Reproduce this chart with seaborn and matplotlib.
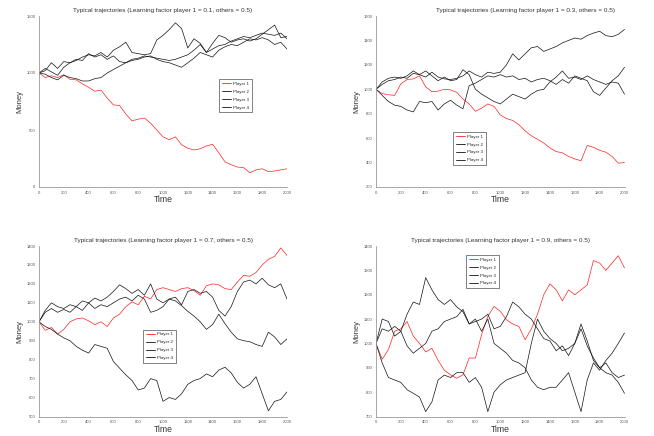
import matplotlib
matplotlib.use("Agg")
import matplotlib.pyplot as plt
import numpy as np
import pandas as pd
import seaborn as sns

time = list(range(0, 2001, 50))
players = ["Player 1", "Player 2", "Player 3", "Player 4"]
factors = ["0.1", "0.3", "0.7", "0.9"]

# Learning factor 0.1
lf01_p1 = [1000, 960, 975, 960, 985, 945, 940, 905, 875, 840, 850, 780, 720, 715, 640, 580, 595, 605, 560, 500,
           440, 415, 440, 370, 340, 325, 335, 360, 375, 300, 220, 195, 175, 170, 125, 150, 160, 135, 140, 150, 160]
lf01_p2 = [1000, 1040, 1010, 980, 1050, 1090, 1110, 1140, 1160, 1150, 1180, 1140, 1200, 1230, 1270, 1180, 1170, 1160, 1170, 1290,
           1330, 1380, 1440, 1390, 1220, 1300, 1260, 1180, 1260, 1330, 1310, 1270, 1290, 1300, 1280, 1300, 1340, 1380, 1420, 1310, 1320]
lf01_p3 = [1000, 990, 960, 940, 980, 960, 950, 930, 930, 950, 960, 1000, 1030, 1060, 1090, 1110, 1120, 1140, 1150, 1120,
           1100, 1090, 1070, 1050, 1090, 1130, 1180, 1160, 1140, 1200, 1230, 1250, 1240, 1270, 1300, 1290, 1310, 1290, 1250, 1270, 1210]
lf01_p4 = [1000, 1020, 1090, 1040, 1100, 1090, 1120, 1110, 1170, 1140, 1160, 1120, 1150, 1100, 1090, 1120, 1130, 1150, 1140, 1130,
           1120, 1110, 1120, 1140, 1160, 1200, 1250, 1180, 1210, 1240, 1250, 1280, 1300, 1320, 1310, 1330, 1350, 1340, 1330, 1350, 1300]

# Learning factor 0.3
lf03_p1 = [1000, 965, 955, 950, 1045, 1080, 1085, 1110, 1020, 980, 985, 1000, 995, 975, 920, 880, 820, 845, 880, 860,
           790, 760, 745, 710, 660, 620, 590, 560, 520, 490, 480, 450, 430, 415, 540, 525, 500, 485, 450, 395, 400]
lf03_p2 = [1000, 1060, 1090, 1100, 1090, 1110, 1150, 1120, 1100, 1140, 1100, 1085, 1080, 1090, 1110, 1150, 1120, 1100, 1140, 1130,
           1140, 1200, 1290, 1240, 1290, 1340, 1350, 1310, 1330, 1350, 1380, 1400, 1420, 1410, 1440, 1460, 1475, 1440, 1430, 1450, 1490]
lf03_p3 = [1000, 1040, 1070, 1080, 1100, 1090, 1130, 1120, 1150, 1110, 1070, 1100, 1070, 1080, 1160, 1120, 1000, 960, 930, 900,
           880, 920, 960, 940, 920, 960, 990, 1000, 1060, 1100, 1150, 1090, 1100, 1080, 1110, 1080, 1060, 1040, 1060, 1050, 960]
lf03_p4 = [1000, 950, 900, 870, 860, 830, 815, 900, 890, 900, 830, 880, 910, 870, 840, 1030, 1050, 1080, 1110, 1100,
           1120, 1100, 1110, 1080, 1090, 1060, 1080, 1090, 1070, 1040, 1080, 1050, 1110, 1090, 1070, 980, 950, 1010, 1070, 1110, 1180]

# Learning factor 0.7
lf07_p1 = [1000, 955, 970, 935, 960, 1000, 1015, 1020, 1005, 985, 1000, 975, 1020, 1040, 1080, 1105, 1090, 1135, 1120, 1170,
           1180, 1170, 1160, 1175, 1180, 1165, 1140, 1190, 1200, 1195, 1175, 1170, 1210, 1245, 1240, 1260, 1300, 1330, 1345, 1390, 1350]
lf07_p2 = [1000, 975, 960, 935, 915, 900, 870, 850, 835, 880, 870, 860, 790, 755, 720, 690, 640, 650, 700, 690,
           580, 600, 590, 620, 670, 690, 700, 725, 710, 745, 760, 730, 680, 650, 670, 710, 620, 530, 580, 590, 630]
lf07_p3 = [1000, 1050, 1070, 1050, 1065, 1050, 1080, 1110, 1100, 1125, 1110, 1130, 1160, 1195, 1175, 1150, 1170, 1140, 1200, 1120,
           1100, 1120, 1110, 1085, 1055, 1030, 1000, 960, 985, 1040, 990, 945, 910, 900, 895, 880, 870, 945, 920, 880, 910]
lf07_p4 = [1000, 1060, 1100, 1080, 1070, 1090, 1080, 1060, 1100, 1070, 1090, 1080, 1100, 1120, 1130, 1110, 1140, 1120, 1050, 1060,
           1080, 1120, 1130, 1090, 1160, 1170, 1150, 1160, 1130, 1060, 1030, 1080, 1160, 1210, 1220, 1200, 1230, 1195, 1180, 1200, 1120]

# Learning factor 0.9
lf09_p1 = [1000, 935, 975, 1050, 1060, 1090, 1030, 1000, 965, 980, 930, 890, 871, 857, 871, 940, 940, 1036, 1111, 1152,
           1132, 1097, 1080, 1070, 1015, 1060, 1120, 1200, 1245, 1220, 1175, 1220, 1200, 1220, 1240, 1340, 1330, 1300, 1330, 1360, 1310]
lf09_p2 = [1000, 920, 860, 850, 840, 810, 795, 780, 720, 760, 850, 870, 860, 880, 880, 840, 860, 820, 720, 800,
           830, 850, 860, 870, 880, 1000, 1100, 1050, 1020, 1000, 970, 980, 1000, 1060, 990, 940, 900, 920, 880, 860, 870]
lf09_p3 = [1000, 1060, 1050, 1070, 1050, 1120, 1170, 1160, 1270, 1220, 1180, 1160, 1180, 1150, 1130, 1080, 1100, 1050, 1100, 1000,
           980, 960, 930, 920, 900, 850, 820, 810, 820, 820, 850, 880, 800, 720, 850, 920, 890, 930, 960, 1000, 1043]
lf09_p4 = [1000, 1100, 1090, 1030, 1050, 990, 960, 980, 1000, 1050, 1060, 1090, 1100, 1110, 1140, 1080, 1090, 1100, 1120, 1060,
           1070, 1110, 1170, 1150, 1120, 1100, 1060, 1020, 1010, 970, 990, 950, 1000, 1080, 1010, 930, 900, 880, 870, 840, 795]

series = {
    "0.1": [lf01_p1, lf01_p2, lf01_p3, lf01_p4],
    "0.3": [lf03_p1, lf03_p2, lf03_p3, lf03_p4],
    "0.7": [lf07_p1, lf07_p2, lf07_p3, lf07_p4],
    "0.9": [lf09_p1, lf09_p2, lf09_p3, lf09_p4],
}
ylims = {"0.1": (0, 1500), "0.3": (200, 1600), "0.7": (500, 1400), "0.9": (700, 1400)}
ysteps = {"0.1": 500, "0.3": 200, "0.7": 100, "0.9": 100}

sns.set_theme(style="white")
fam = ["Liberation Sans Narrow", "Liberation Sans", "DejaVu Sans"]
plt.rcParams["font.family"] = fam

fig = plt.figure(figsize=(6.54, 4.36), dpi=100)
positions = {
    "0.1": [39 / 654, 1 - 187 / 436, 248 / 654, 171 / 436],
    "0.3": [376 / 654, 1 - 187 / 436, 248.5 / 654, 171 / 436],
    "0.7": [39 / 654, 1 - 416.5 / 436, 248 / 654, 170.5 / 436],
    "0.9": [376 / 654, 1 - 416.5 / 436, 248.5 / 654, 170.5 / 436],
}
legend_anchor = {"0.1": (0.726, 0.63), "0.3": (0.31, 0.322), "0.7": (0.42, 0.51), "0.9": (0.363, 0.947)}
title_x = {"0.1": 0.5, "0.3": 0.6, "0.7": 0.5, "0.9": 0.5}

palette = {"Player 1": "#ff2020", "Player 2": "#111111", "Player 3": "#111111", "Player 4": "#111111"}

for f in factors:
    ax = fig.add_axes(positions[f])
    rows = []
    for name, vals in zip(players, series[f]):
        for t, v in zip(time, vals):
            rows.append((t, v, name))
    df = pd.DataFrame(rows, columns=["Time", "Money", "Player"])
    sns.lineplot(data=df, x="Time", y="Money", hue="Player", palette=palette,
                 linewidth=0.5, estimator=None, sort=False, ax=ax)
    ax.set_xlim(0, 2000)
    lo, hi = ylims[f]
    ax.set_ylim(lo, hi)
    ax.set_xticks(range(0, 2001, 200))
    ax.set_yticks(range(lo, hi + 1, ysteps[f]))
    ax.tick_params(axis="both", labelsize=3, length=1.6, width=0.4, pad=1,
                   colors="#555555", direction="out")
    for s in ["top", "right"]:
        ax.spines[s].set_visible(False)
    for s in ["left", "bottom"]:
        ax.spines[s].set_color("#999999")
        ax.spines[s].set_linewidth(0.6)
    ax.set_xlabel("Time", fontsize=6.2, labelpad=0.5, color="#333333")
    ax.set_ylabel("Money", fontsize=5.5, labelpad=2, color="#333333")
    ax.set_title(f"Typical trajectories (Learning factor player 1 = {f}, others = 0.5)",
                 fontsize=4.6, pad=3.2, x=title_x[f], color="#333333")
    leg = ax.legend(loc="upper left", bbox_to_anchor=legend_anchor[f], fontsize=3.2,
                    frameon=True, fancybox=False, borderaxespad=0, borderpad=0.6,
                    handlelength=2.0, handletextpad=0.6, labelspacing=0.85)
    leg.get_frame().set_edgecolor("#222222")
    leg.get_frame().set_linewidth(0.5)
    for line in leg.get_lines():
        line.set_linewidth(0.6)

fig.savefig("out.png", dpi=100, facecolor="white")
